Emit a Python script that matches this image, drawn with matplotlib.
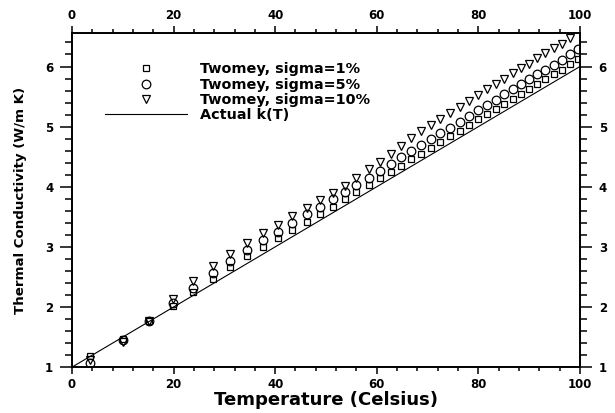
import numpy as np
import matplotlib
matplotlib.use("Agg")
import matplotlib.pyplot as plt
from matplotlib.lines import Line2D
from matplotlib.ticker import MultipleLocator

# retrieved thermal conductivity vs temperature, three noise levels
temp = [3.5, 10.1, 15.2, 19.8, 23.9, 27.7, 31.2, 34.5, 37.7, 40.6,
        43.4, 46.2, 48.8, 51.3, 53.7, 56.0, 58.4, 60.6, 62.8, 64.8,
        66.8, 68.7, 70.6, 72.5, 74.4, 76.3, 78.1, 80.0, 81.7, 83.4,
        85.1, 86.8, 88.4, 90.0, 91.6, 93.2, 94.8, 96.4, 98.1, 99.7]

k_sigma1 = [1.18, 1.46, 1.77, 2.01, 2.25, 2.47, 2.67, 2.85, 3.00, 3.15,
            3.28, 3.42, 3.55, 3.67, 3.79, 3.91, 4.03, 4.14, 4.25, 4.35,
            4.46, 4.55, 4.65, 4.74, 4.84, 4.93, 5.02, 5.12, 5.21, 5.29,
            5.38, 5.46, 5.55, 5.63, 5.71, 5.79, 5.87, 5.95, 6.04, 6.12]

k_sigma5 = [1.07, 1.45, 1.77, 2.06, 2.32, 2.57, 2.77, 2.95, 3.11, 3.25,
            3.39, 3.54, 3.67, 3.79, 3.91, 4.03, 4.15, 4.27, 4.38, 4.49,
            4.59, 4.69, 4.79, 4.89, 4.98, 5.08, 5.18, 5.27, 5.36, 5.45,
            5.54, 5.63, 5.71, 5.79, 5.87, 5.95, 6.03, 6.11, 6.20, 6.29]

k_sigma10 = [1.12, 1.42, 1.77, 2.14, 2.43, 2.69, 2.89, 3.07, 3.23, 3.37,
             3.51, 3.65, 3.78, 3.90, 4.02, 4.15, 4.29, 4.41, 4.55, 4.68,
             4.81, 4.92, 5.02, 5.12, 5.23, 5.33, 5.43, 5.53, 5.62, 5.71,
             5.80, 5.89, 5.97, 6.05, 6.14, 6.22, 6.30, 6.38, 6.47]

# exact k(T)
t_actual = [0.0, 100.0]
k_actual = [1.0, 6.0]

plt.rcParams["font.family"] = ["DejaVu Sans"]
plt.rcParams["font.weight"] = "bold"

fig = plt.figure(figsize=(6.15, 4.13), dpi=100)
ax = fig.add_axes([0.117, 0.111, 0.826, 0.808])

mk = dict(linestyle="none", markerfacecolor="none", markeredgecolor="black",
          markeredgewidth=0.9)
ax.plot(t_actual, k_actual, color="black", linewidth=0.8)
ax.plot(temp, k_sigma1, marker="s", markersize=4.8, **mk)
ax.plot(temp, k_sigma5, marker="o", markersize=6.2, **mk)
ax.plot(temp[:len(k_sigma10)], k_sigma10, marker="v", markersize=5.8, **mk)

ax.set_xlim(0, 100)
ax.set_ylim(1, 6.55)
ax.xaxis.set_major_locator(MultipleLocator(20))
ax.xaxis.set_minor_locator(MultipleLocator(4))
ax.yaxis.set_major_locator(MultipleLocator(1))
ax.yaxis.set_minor_locator(MultipleLocator(0.2))

ax.tick_params(which="both", direction="out", top=True, right=True,
               labeltop=True, labelright=True, labelsize=8.5, width=1.1)
ax.tick_params(axis="x", which="major", length=5, pad=3)
ax.tick_params(axis="x", which="minor", length=3)
ax.tick_params(axis="y", which="major", length=8.5, pad=5)
ax.tick_params(axis="y", which="minor", length=5)
for s in ax.spines.values():
    s.set_linewidth(1.4)

ax.set_xlabel("Temperature (Celsius)", fontsize=13, fontweight="bold", labelpad=0)
ax.set_ylabel("Thermal Conductivity (W/m K)", fontsize=9.6, fontweight="bold",
              labelpad=13)

handles = [
    Line2D([], [], marker="s", markersize=4.8, **mk),
    Line2D([], [], marker="o", markersize=6.2, **mk),
    Line2D([], [], marker="v", markersize=5.8, **mk),
    Line2D([], [], color="black", linewidth=0.8),
]
labels = ["Twomey, sigma=1%", "Twomey, sigma=5%", "Twomey, sigma=10%", "Actual k(T)"]
ax.legend(handles, labels, loc="upper left", bbox_to_anchor=(0.065, 0.913),
          frameon=False, handlelength=5.7, handletextpad=0.9,
          labelspacing=0.08, borderpad=0, borderaxespad=0,
          prop={"family": "DejaVu Sans", "weight": "bold", "size": 10.4})

fig.savefig("out.png", dpi=100)
